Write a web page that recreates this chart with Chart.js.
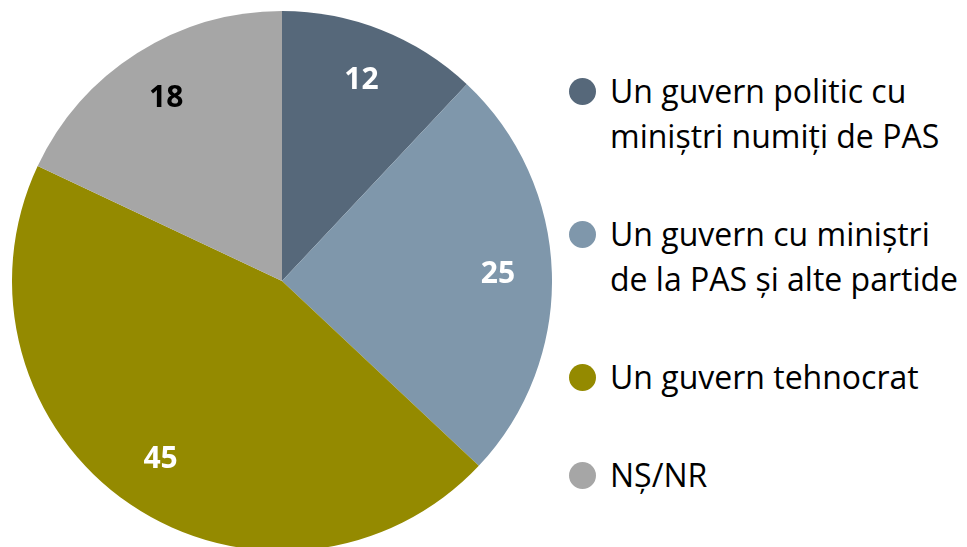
<!DOCTYPE html>
<html>
<head>
<meta charset="utf-8">
<script src="https://cdn.jsdelivr.net/npm/chart.js@4"></script>
<style>
  html, body { margin: 0; padding: 0; background: #fff; overflow: hidden; }
  body { width: 967px; height: 547px; position: relative; font-family: 'Open Sans', sans-serif; }
  #pieWrap { position: absolute; left: 12px; top: 11px; width: 540px; height: 540px; }
  #legend { position: absolute; left: 568px; top: 68px; margin: 0; padding: 0; list-style: none; }
  #legend li { position: relative; padding-left: 42px; font-size: 32px; line-height: 45px; color: #000; white-space: nowrap; }
  #legend li + li { margin-top: 53px; }
  #legend .dot { position: absolute; left: 1px; top: 10px; width: 27px; height: 27px; border-radius: 50%; }
</style>
</head>
<body>
<div id="pieWrap"><canvas id="pie"></canvas></div>
<ul id="legend"></ul>
<script>
const labels = [
  ['Un guvern politic cu', 'miniștri numiți de PAS'],
  ['Un guvern cu miniștri', 'de la PAS și alte partide'],
  ['Un guvern tehnocrat'],
  ['NȘ/NR'],
];
const values = [12, 25, 45, 18];
const sliceColors = ['#56687a', '#7f97ab', '#948a00', '#a6a6a6'];
const valueColors = ['#ffffff', '#ffffff', '#ffffff', '#000000'];

// draws the number inside each slice, around 80% out from the centre
const sliceValues = {
  id: 'sliceValues',
  afterDatasetsDraw(chart) {
    const ctx = chart.ctx;
    const meta = chart.getDatasetMeta(0);
    ctx.save();
    ctx.font = 'bold 30px "Open Sans", sans-serif';
    ctx.textAlign = 'center';
    ctx.textBaseline = 'middle';
    meta.data.forEach((arc, i) => {
      const mid = (arc.startAngle + arc.endAngle) / 2;
      const r = arc.outerRadius * 0.8;
      ctx.fillStyle = valueColors[i];
      ctx.fillText(String(values[i]), arc.x + Math.cos(mid) * r, arc.y + Math.sin(mid) * r);
    });
    ctx.restore();
  },
};

new Chart(document.getElementById('pie'), {
  type: 'pie',
  data: {
    labels: labels.map((l) => l.join(' ')),
    datasets: [{
      data: values,
      backgroundColor: sliceColors,
      borderWidth: 0,
    }],
  },
  options: {
    responsive: true,
    maintainAspectRatio: false,
    animation: false,
    layout: { padding: 0 },
    plugins: { legend: { display: false }, tooltip: { enabled: false } },
  },
  plugins: [sliceValues],
});

document.getElementById('legend').innerHTML = labels.map((l, i) =>
  `<li><span class="dot" style="background:${sliceColors[i]}"></span>${l.join('<br>')}</li>`
).join('');
</script>
</body>
</html>
